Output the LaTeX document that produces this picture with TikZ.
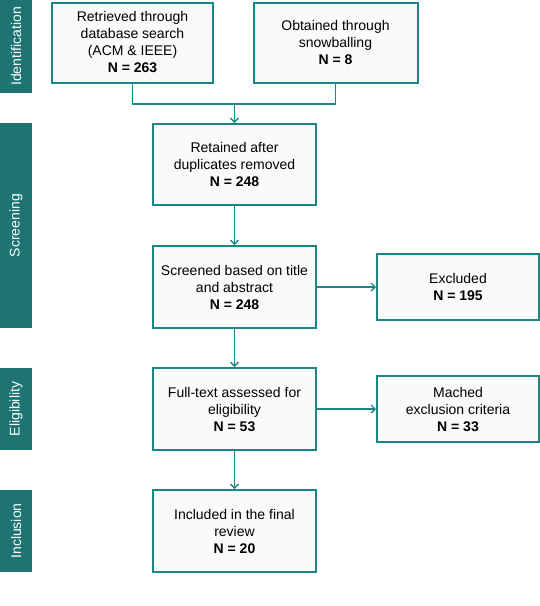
\documentclass[tikz,border=0pt]{standalone}
\usepackage{fontspec}
\setmainfont{Liberation Sans}
\usetikzlibrary{arrows.meta}
\definecolor{tealline}{RGB}{26,135,135}
\definecolor{tealband}{RGB}{30,115,115}
\definecolor{boxfill}{RGB}{250,250,250}
\tikzset{
    stagebox/.style={draw=tealline,line width=2pt,fill=boxfill,align=center,
        font=\fontsize{14}{17}\selectfont,inner sep=2pt},
    phaseband/.style={fill=tealband,text=white,rotate=90,minimum height=32pt,
        inner sep=0pt,font=\fontsize{14}{17}\selectfont},
    flowline/.style={draw=tealline,line width=1.3pt},
    flowarrow/.style={flowline,-{Straight Barb[length=4pt,width=8pt,line width=1.3pt]}}
}
\begin{document}
\begin{tikzpicture}[x=1pt,y=-1pt]
        \useasboundingbox (0,0) rectangle (540,606);
        % phases
        \node[phaseband,minimum width=93pt] (identification) at (16,46.5) {Identification};
        \node[phaseband,minimum width=205pt] (screening) at (16,225.5) {Screening};
        \node[phaseband,minimum width=82pt] (eligibility) at (16,409) {Eligibility};
        \node[phaseband,minimum width=82pt] (inclusion) at (16,531) {Inclusion};
        % boxes
        \node[stagebox,minimum width=161pt,minimum height=80pt] (retrieved) at (132.5,42.5) {Retrieved through\\database search\\(ACM \& IEEE)\\\textbf{N = 263}};
        \node[stagebox,minimum width=164pt,minimum height=80pt] (snowball) at (335.5,42.5) {Obtained through\\snowballing\\\textbf{N = 8}};
        \node[stagebox,minimum width=163pt,minimum height=81pt] (retained) at (234.5,164.5) {Retained after\\duplicates removed\\\textbf{N = 248}};
        \node[stagebox,minimum width=163pt,minimum height=82pt] (screened) at (234.5,287) {Screened based on title\\and abstract\\\textbf{N = 248}};
        \node[stagebox,minimum width=162pt,minimum height=66pt] (excluded) at (458,287) {Excluded\\\textbf{N = 195}};
        \node[stagebox,minimum width=163pt,minimum height=82pt] (fulltext) at (234.5,409) {Full-text assessed for\\eligibility\\\textbf{N = 53}};
        \node[stagebox,minimum width=162pt,minimum height=66pt] (matched) at (458,409) {Mached\\exclusion criteria\\\textbf{N = 33}};
        \node[stagebox,minimum width=163pt,minimum height=82pt] (included) at (234.5,531) {Included in the final\\review\\\textbf{N = 20}};
        % connectors
        \coordinate (merge) at (234.5,104);
        \draw[flowline] (retrieved.south) -- (retrieved.south |- merge) -- (snowball.south |- merge) -- (snowball.south);
        \draw[flowarrow] (merge) -- (retained.north);
        \draw[flowarrow] (retained) -- (screened);
        \draw[flowarrow] (screened) -- (excluded);
        \draw[flowarrow] (screened) -- (fulltext);
        \draw[flowarrow] (fulltext) -- (matched);
        \draw[flowarrow] (fulltext) -- (included);
    \end{tikzpicture}
\end{document}
